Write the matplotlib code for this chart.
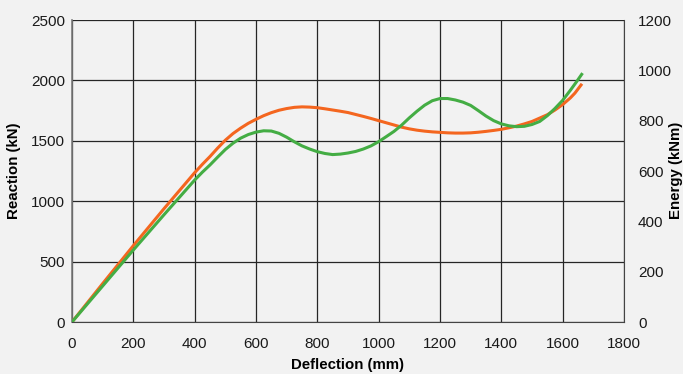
import matplotlib as mpl
import matplotlib.pyplot as plt

mpl.rcParams.update({
    "font.family": ["Liberation Sans", "DejaVu Sans"],
})

# deflection (mm) vs reaction (kN)
orange_x = [0, 100, 200, 300, 400, 425, 450, 475, 500, 525, 550, 575, 600,
            625, 650, 675, 700, 725, 750, 775, 800, 825, 850, 875, 900, 925,
            950, 975, 1000, 1025, 1050, 1075, 1100, 1125, 1150, 1175, 1200,
            1225, 1250, 1275, 1300, 1325, 1350, 1375, 1400, 1425, 1450, 1475,
            1500, 1525, 1550, 1575, 1600, 1625, 1640, 1660]
orange_y = [0, 318, 632, 938, 1236, 1305, 1370, 1440, 1505, 1560, 1605, 1645,
            1678, 1708, 1733, 1753, 1767, 1777, 1781, 1779, 1774, 1765, 1755,
            1745, 1734, 1718, 1702, 1685, 1667, 1649, 1631, 1613, 1599, 1588,
            1580, 1574, 1570, 1566, 1564, 1564, 1566, 1571, 1578, 1586, 1595,
            1608, 1622, 1640, 1660, 1688, 1716, 1755, 1800, 1855, 1895, 1962]

green_x = [0, 100, 200, 300, 400, 425, 450, 475, 500, 525, 550, 575, 600,
           625, 650, 675, 700, 725, 750, 775, 800, 825, 850, 875, 900, 925,
           950, 975, 1000, 1025, 1050, 1075, 1100, 1125, 1150, 1175, 1200,
           1225, 1250, 1275, 1300, 1325, 1350, 1375, 1400, 1425, 1450, 1475,
           1500, 1525, 1550, 1575, 1600, 1625, 1645, 1662]
green_y = [0, 298, 596, 888, 1175, 1240, 1300, 1365, 1428, 1480, 1522, 1552,
           1572, 1583, 1581, 1562, 1530, 1492, 1458, 1432, 1410, 1395, 1386,
           1390, 1399, 1412, 1432, 1458, 1493, 1535, 1578, 1630, 1690, 1745,
           1795, 1832, 1850, 1850, 1838, 1820, 1793, 1750, 1705, 1667, 1640,
           1624, 1617, 1620, 1635, 1660, 1708, 1768, 1835, 1918, 1988, 2050]

x_ticks = [0, 200, 400, 600, 800, 1000, 1200, 1400, 1600, 1800]
left_ticks = [0, 500, 1000, 1500, 2000, 2500]
right_ticks = [0, 200, 400, 600, 800, 1000, 1200]

BG = "#f2f2f2"
ORANGE = "#f4661f"
GREEN = "#44ad44"
GRID = "#262626"

fig = plt.figure(figsize=(6.83, 3.74), dpi=100, facecolor=BG)
ax = fig.add_axes([0.1054, 0.139, 0.8082, 0.8075], facecolor=BG)

ax.plot(orange_x, orange_y, color=ORANGE, lw=2.2, zorder=3)
ax.plot(green_x, green_y, color=GREEN, lw=2.2, zorder=4)

ax.set_xlim(0, 1800)
ax.set_ylim(0, 2500)
ax.set_xticks(x_ticks)
ax.set_yticks(left_ticks)
ax.grid(True, color=GRID, lw=0.9)
ax.tick_params(length=0, labelsize=11, colors="#1a1a1a")
ax.tick_params(axis="x", pad=11)
ax.tick_params(axis="y", pad=5)
for side in ("top", "right"):
    ax.spines[side].set_visible(False)
ax.spines["left"].set_color("#7a7a7a")
ax.spines["left"].set_linewidth(1.2)
ax.spines["bottom"].set_color("#444444")

label_font = dict(family=["Liberation Sans Narrow", "Liberation Sans"],
                  fontweight="bold", fontsize=10.8)
ax.set_xlabel("Deflection (mm)", labelpad=5, **label_font)
ax.set_ylabel("Reaction (kN)", labelpad=7, **label_font)

ax2 = ax.twinx()
ax2.set_ylim(0, 1200)
ax2.set_yticks(right_ticks)
ax2.tick_params(length=0, labelsize=11, pad=10, colors="#1a1a1a")
for side in ("top", "left", "bottom"):
    ax2.spines[side].set_visible(False)
ax2.spines["right"].set_color("#444444")

# right-hand label sits hard against the figure edge, as in the original
fig.text(676 / 683, 1 - 170 / 374, "Energy (kNm)", rotation=90,
         ha="center", va="center", **label_font)

fig.savefig("out.png", dpi=100, facecolor=BG)
